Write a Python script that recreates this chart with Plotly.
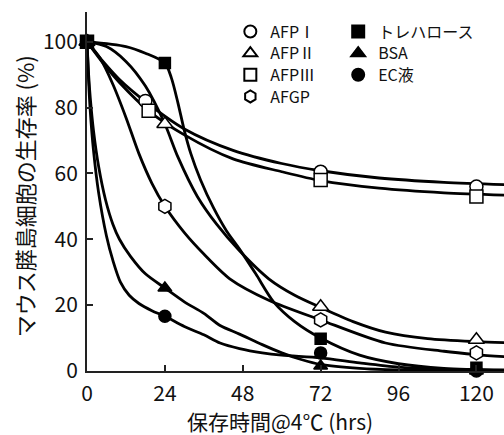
import plotly.graph_objects as go

# ---- measured points (hours, survival %) ----
afp1_hours = [0, 18, 72, 120]
afp1_vals = [100, 82, 60.5, 56]
afp2_hours = [0, 24, 72, 120]
afp2_vals = [100, 75, 19.5, 9.5]
afp3_hours = [0, 19, 72, 120]
afp3_vals = [100, 79, 58, 53]
afgp_hours = [0, 24, 72, 120]
afgp_vals = [100, 50, 15.5, 5.5]
treh_hours = [0, 24, 72, 120]
treh_vals = [100, 93.5, 9.8, 1]
bsa_hours = [0, 24, 72, 120]
bsa_vals = [100, 25.2, 1.5, 0]
ec_hours = [0, 24, 72, 120]
ec_vals = [100, 16.6, 5.5, 0]

# ---- fitted curves, values ----
afp1_curve_hours = [0, 5, 10, 18, 30, 45, 60, 72, 90, 110, 129]
afp1_curve_vals = [100, 93.9, 88.5, 81.8, 73.5, 67, 63, 60.8, 58.6, 57.3, 56.6]
afp3_curve_hours = [0, 5, 10, 19, 30, 45, 60, 72, 90, 110, 129]
afp3_curve_vals = [100, 93.4, 87.6, 79, 71.7, 64.4, 60.5, 57.8, 55.5, 54.1, 53.4]
afp2_curve_hours = [0, 6, 12, 18, 24, 28, 34, 40, 47, 56, 64, 72, 82, 92, 105, 120, 129]
afp2_curve_vals = [100, 98.5, 94, 86.5, 75, 65, 53, 44.5, 36.5, 28, 23, 19.3, 15, 11.8, 9.8, 8.9, 8.6]
afgp_curve_hours = [0, 4, 8, 12, 16, 20, 24, 30, 36, 44, 56, 72, 92, 110, 120, 129]
afgp_curve_vals = [100, 95, 87, 77, 66, 57, 50, 42, 35.5, 28, 21.5, 15.5, 8.5, 6, 5, 4.3]
treh_curve_hours = [0, 12, 18, 24, 26, 28, 30, 32, 35, 39, 43, 47, 52, 57.5, 64, 72, 84, 96, 110, 129]
treh_curve_vals = [100, 98.5, 96.5, 93.5, 89, 81.5, 73, 66, 58, 49.5, 42.5, 37, 29.5, 21, 15, 10, 4.8, 2.2, 0.8, 0.3]
bsa_curve_hours = [0, 0.5, 1, 2, 3.6, 5.7, 8, 10, 13.4, 18, 24, 30, 36, 41, 47, 54, 60, 66, 72, 84, 96, 110, 129]
bsa_curve_vals = [100, 90, 83, 73, 62, 52, 44.5, 40, 34.8, 29.5, 25.2, 21, 17.5, 13.8, 11.2, 8, 5.5, 3.5, 2, 0.8, 0.3, 0.1, 0]
ec_curve_hours = [0, 0.5, 1, 2, 3.6, 6, 8, 10.3, 13, 16, 20, 24, 30, 36, 41, 47, 54, 60, 72, 84, 96, 110, 129]
ec_curve_vals = [100, 88, 79, 67, 54, 41, 33.5, 27, 23, 20.5, 18.3, 16.6, 13.5, 11, 8.5, 6.8, 5.5, 4.8, 4, 2.5, 1.2, 0.5, 0.2]

x_ticks = [0, 24, 48, 72, 96, 120]
y_ticks = [0, 20, 40, 60, 80, 100]

FONT = "Noto Sans CJK JP"

fig = go.Figure()

curves = [
    (afp1_curve_hours, afp1_curve_vals),
    (afp3_curve_hours, afp3_curve_vals),
    (afp2_curve_hours, afp2_curve_vals),
    (afgp_curve_hours, afgp_curve_vals),
    (treh_curve_hours, treh_curve_vals),
    (bsa_curve_hours, bsa_curve_vals),
    (ec_curve_hours, ec_curve_vals),
]
for cx, cy in curves:
    fig.add_trace(go.Scatter(x=cx, y=cy, mode="lines", showlegend=False,
                             line=dict(color="black", width=2.8, shape="spline", smoothing=0.8),
                             hoverinfo="skip"))

# name, x, y, symbol, fill, legend id, size
series = [
    ("AFPⅠ", afp1_hours, afp1_vals, "circle", "white", "legend", 13),
    ("AFPⅡ", afp2_hours, afp2_vals, "triangle-up", "white", "legend2", 14),
    ("AFPⅢ", afp3_hours, afp3_vals, "square", "white", "legend3", 13),
    ("AFGP", afgp_hours, afgp_vals, "hexagon", "white", "legend4", 14),
    ("トレハロース", treh_hours, treh_vals, "square", "black", "legend5", 11),
    ("BSA", bsa_hours, bsa_vals, "triangle-up", "black", "legend6", 12),
    ("EC液", ec_hours, ec_vals, "circle", "black", "legend7", 12),
]
for name, hx, hy, sym, fill, leg, sz in series:
    fig.add_trace(go.Scatter(x=hx, y=hy, mode="markers", name=name, legend=leg,
                             cliponaxis=False,
                             marker=dict(symbol=sym, size=sz, color=fill,
                                         line=dict(color="black", width=1.5))))

axis_common = dict(showline=True, linecolor="#222", linewidth=1.8, ticks="inside",
                   ticklen=6, tickwidth=1.5, tickcolor="#222", showgrid=False,
                   zeroline=False, tickfont=dict(family=FONT, size=21, color="#111"))

PLOT_L, PLOT_R, PLOT_T, PLOT_B = 86.5, 504.0, 12.0, 371.5


def px_x(p):
    return (p - PLOT_L) / (PLOT_R - PLOT_L)


def px_y(p):
    return (PLOT_B - p) / (PLOT_B - PLOT_T)


legend_font = dict(family=FONT, size=16, color="#111")
col1_x, col2_x = px_x(230), px_x(338)
row_y = [px_y(31.7), px_y(53.3), px_y(75.0), px_y(96.7)]
legend_defs = {
    "legend": (col1_x, row_y[0]),
    "legend2": (col1_x, row_y[1]),
    "legend3": (col1_x, row_y[2]),
    "legend4": (col1_x, row_y[3]),
    "legend5": (col2_x, row_y[0]),
    "legend6": (col2_x, row_y[1]),
    "legend7": (col2_x, row_y[2]),
}
legend_layout = {}
for key, (lx, ly) in legend_defs.items():
    legend_layout[key] = dict(x=lx, y=ly, xanchor="left", yanchor="middle",
                              bgcolor="rgba(0,0,0,0)", font=legend_font,
                              itemsizing="constant", borderwidth=0)

fig.update_layout(
    width=504, height=435,
    margin=dict(l=PLOT_L, r=0, t=PLOT_T, b=435 - PLOT_B),
    paper_bgcolor="white", plot_bgcolor="white",
    xaxis=dict(range=[0, 128.5], tickvals=x_ticks, ticklabelstandoff=3, **axis_common),
    yaxis=dict(range=[0, 109], tickvals=y_ticks, ticklabelstandoff=3, **axis_common),
    annotations=[
        dict(text="保存時間@4℃ (hrs)", xref="paper", yref="paper", x=px_x(280), y=px_y(422),
             xanchor="center", yanchor="middle", showarrow=False,
             font=dict(family=FONT, size=21, color="#111")),
        dict(text="マウス膵島細胞の生存率 (%)", xref="paper", yref="paper", x=px_x(23), y=px_y(197),
             xanchor="center", yanchor="middle", showarrow=False, textangle=-90,
             font=dict(family=FONT, size=22, color="#111")),
    ],
    **legend_layout,
)

fig.write_html("out.html", config={"displayModeBar": False},
               post_script="document.body.style.margin='0';document.body.style.overflow='hidden';")
